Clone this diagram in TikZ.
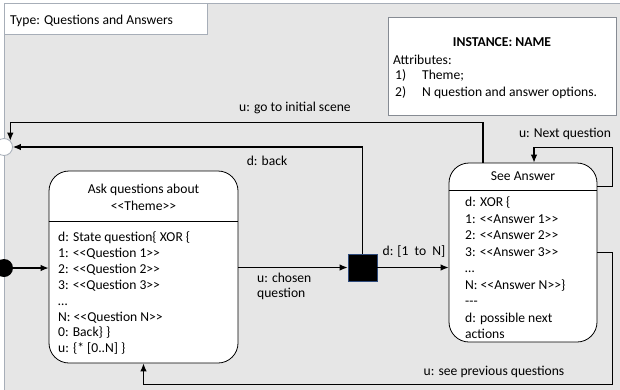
\documentclass[tikz,border=0pt]{standalone}
\usepackage{fontspec}
\setmainfont{Carlito}
\usetikzlibrary{arrows.meta,positioning,calc}

\definecolor{framegray}{HTML}{E6E6E6}
\definecolor{frameline}{HTML}{A7AEB8}
\definecolor{sqblue}{HTML}{2F4B7C}
\newcommand\diafont{\fontsize{13.6}{16.5}\selectfont}

\tikzset{
  scene/.style={draw, fill=white, rounded corners=20pt, line width=0.8pt, inner sep=0pt},
  line/.style={inner sep=0pt, anchor=base west},
  lbl/.style={inner sep=0pt, align=left},
  conn/.style={line width=1.1pt, -{Latex[length=8pt,width=6.5pt]}},
}

\begin{document}
\begin{tikzpicture}[
  x=1pt, y=-1pt,
  font=\diafont,
]
\useasboundingbox (0,0) rectangle (620,389);

% frame of the scene type
\fill[framegray] (4,3) rectangle (625,395);
\draw[frameline, line width=0.8pt] (4,395) -- (4,3) -- (625,3);
\node[draw=frameline, fill=white, line width=0.8pt, minimum width=203pt, minimum height=31pt, anchor=north west] (kind) at (4,3) {};
\node[line] (kindtxt) at (10,24) {Type: Questions and Answers};

% instance box
\node[draw=frameline!80!black, fill=white, line width=0.8pt, minimum width=228pt, minimum height=98pt, anchor=north west] (inst) at (388,17) {};
\node[lbl] (insttitle) at (502,42) {\bfseries INSTANCE: NAME};
\node[line] (attr) at (393,64.5) {Attributes:};
\node[line] (n1) at (395,79.5) {1)};
\node[line] (a1) at (422,79.5) {Theme;};
\node[line] (n2) at (395,96.5) {2)};
\node[line] (a2) at (422,96.5) {N question and answer options.};

% states
\node[scene, minimum width=189pt, minimum height=192pt] (ask) at (143.5,267) {};
\draw[line width=0.8pt] (ask.west |- 0,221) -- (ask.east |- 0,221);
\node[lbl, align=center] (askhead) at (143.5,197.5) {Ask questions about\\[0.5pt] <{}<Theme>{}>};
\foreach \t [count=\i from 0] in {%
  {d: State question\{ XOR \{},
  {1: <{}<Question 1>{}>},
  {2: <{}<Question 2>{}>},
  {3: <{}<Question 3>{}>},
  {\ldots},
  {N: <{}<Question N>{}>},
  {0: Back\} \}},
  {u: \{* [0..N] \}}} {
  \node[line] (askl\i) at (58,241.5+15.9*\i) {\t};
}

\node[scene, minimum width=148pt, minimum height=179pt] (see) at (523,252.5) {};
\draw[line width=0.8pt] (see.west |- 0,190) -- (see.east |- 0,190);
\node[line, anchor=base] (seehead) at (523,180.5) {See Answer};
\foreach \t [count=\i from 0] in {%
  {d: XOR \{},
  {1: <{}<Answer 1>{}>},
  {2: <{}<Answer 2>{}>},
  {3: <{}<Answer 3>{}>},
  {\ldots},
  {N: <{}<Answer N>{}>\}},
  {-{}-{}-},
  {d: possible next},
  {actions}} {
  \node[line] (seel\i) at (465,206.5+16.5*\i) {\t};
}

% pseudo states
\node[circle, draw=frameline, fill=white, line width=0.8pt, minimum size=17pt, inner sep=0pt] (start) at (4,147) {};
\node[circle, fill=black, minimum size=18pt, inner sep=0pt] (init) at (4,268) {};
\node[draw=sqblue, fill=black, line width=0.8pt, minimum width=29pt, minimum height=27pt, inner sep=0pt] (choice) at (362.5,267.5) {};

% transitions
\draw[conn] (init) -- (ask.west |- init);
\draw[conn] (ask.east |- choice) -- (choice.west);
\draw[conn] (choice.east) -- (choice.east -| see.west);
\draw[conn] (choice.north) |- (start.east);
\draw[conn] ([xshift=-40pt]see.north) |- ([yshift=18pt]start.north east) -- (start.north east);
\draw[conn] ([yshift=66pt]see.east) -- ++(15,0) |- ([xshift=11pt,yshift=15pt]see.north) -- ([xshift=11pt]see.north);
\draw[conn] (see.east) -- ++(15,0) |- ([yshift=-21pt]ask.south) -- (ask.south);

% transition labels
\node[lbl] (lgo) at (295,108) {u: go to initial scene};
\node[lbl] (lback) at (267,161) {d: back};
\node[lbl, anchor=north west] (lchosen) at (257,273) {u: chosen\\[-1.5pt] question};
\node[lbl] (lrange) at (414,252) {d: [1\ \ to\ \ N]};
\node[lbl] (lnext) at (565,134) {u: Next question};
\node[lbl] (lprev) at (494,372) {u: see previous questions};
\end{tikzpicture}
\end{document}
